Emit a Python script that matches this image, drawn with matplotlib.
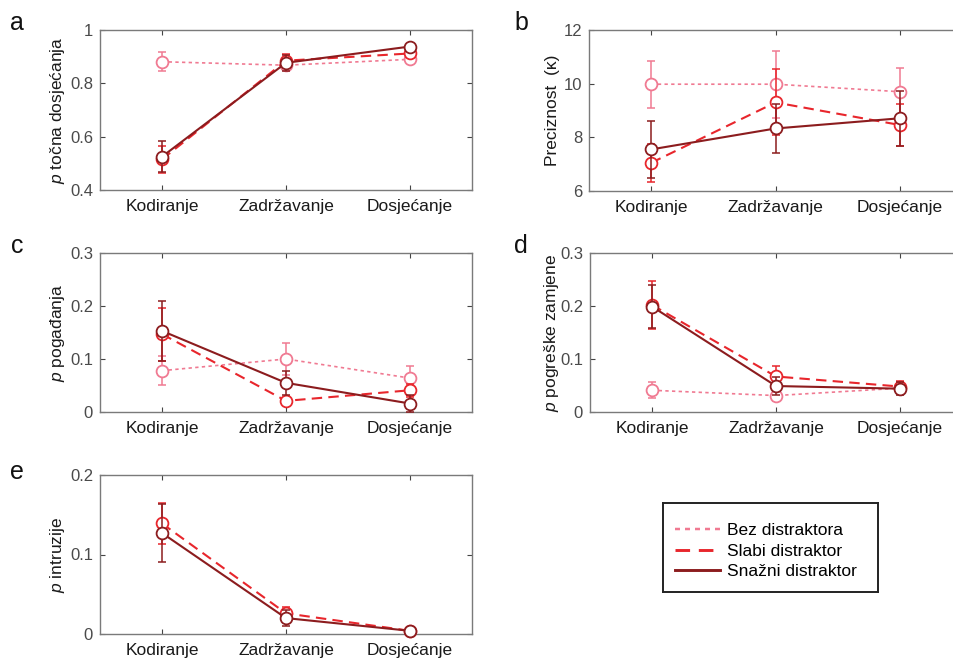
import matplotlib
matplotlib.use("Agg")
import matplotlib.pyplot as plt
from matplotlib.lines import Line2D

plt.rcParams['font.family'] = ['Liberation Sans', 'DejaVu Sans']
plt.rcParams['mathtext.fontset'] = 'custom'
plt.rcParams['mathtext.it'] = 'Liberation Sans:italic'
plt.rcParams['mathtext.rm'] = 'Liberation Sans'

phases = ["Kodiranje", "Zadržavanje", "Dosjećanje"]
series_names = ["Bez distraktora", "Slabi distraktor", "Snažni distraktor"]

# panel a: p točna dosjećanja
a_bez = [0.881, 0.868, 0.890]
a_bez_err = [0.035, 0.012, 0.010]
a_slabi = [0.515, 0.885, 0.912]
a_slabi_err = [0.050, 0.025, 0.012]
a_snazni = [0.525, 0.877, 0.938]
a_snazni_err = [0.057, 0.030, 0.010]

# panel b: Preciznost (kappa)
b_bez = [9.98, 9.98, 9.70]
b_bez_err = [0.88, 1.25, 0.90]
b_slabi = [7.05, 9.30, 8.46]
b_slabi_err = [0.70, 1.23, 0.78]
b_snazni = [7.55, 8.33, 8.71]
b_snazni_err = [1.07, 0.92, 1.03]

# panel c: p pogađanja
c_bez = [0.078, 0.100, 0.064]
c_bez_err = [0.027, 0.030, 0.022]
c_slabi = [0.147, 0.021, 0.041]
c_slabi_err = [0.050, 0.005, 0.012]
c_snazni = [0.153, 0.055, 0.016]
c_snazni_err = [0.057, 0.023, 0.016]

# panel d: p pogreške zamjene
d_bez = [0.041, 0.031, 0.045]
d_bez_err = [0.015, 0.010, 0.008]
d_slabi = [0.202, 0.067, 0.048]
d_slabi_err = [0.045, 0.020, 0.010]
d_snazni = [0.199, 0.049, 0.044]
d_snazni_err = [0.041, 0.017, 0.012]

# panel e: p intruzije
e_slabi = [0.139, 0.026, 0.004]
e_slabi_err = [0.026, 0.008, 0.002]
e_snazni = [0.127, 0.020, 0.004]
e_snazni_err = [0.037, 0.010, 0.002]

colors = ["#F07A92", "#E8262C", "#8C1C1E"]
styles = [(0, (2, 2)), (0, (5, 3)), "-"]
widths = [1.2, 1.5, 1.5]

W, H = 954, 659
fig = plt.figure(figsize=(W / 100, H / 100), dpi=100)
fig.patch.set_facecolor("white")


def px_axes(left, top, right, bottom):
    return fig.add_axes([left / W, (H - bottom) / H, (right - left) / W, (bottom - top) / H])


spine_col = "#7a7a7a"


def style_axes(ax, ylim, yticks, yticklabels, ylabel, label_x):
    ax.set_xlim(0.5, 3.5)
    ax.set_ylim(*ylim)
    ax.set_xticks([1, 2, 3])
    ax.set_xticklabels(phases, fontsize=12.5, color="#1a1a1a")
    ax.set_yticks(yticks)
    ax.set_yticklabels(yticklabels, fontsize=12, color="#4a4a4a")
    ax.tick_params(direction="in", length=3.5, width=0.8, top=True, right=True,
                   colors="#444444")
    ax.tick_params(axis="x", pad=6.5)
    ax.tick_params(axis="y", pad=5)
    for lab in ax.get_xticklabels():
        lab.set_color("#1a1a1a")
    for lab in ax.get_yticklabels():
        lab.set_color("#4a4a4a")
    for s in ax.spines.values():
        s.set_color(spine_col)
        s.set_linewidth(1.0)
    ax.set_ylabel(ylabel, fontsize=12.5, color="#1a1a1a")
    ax.yaxis.set_label_coords(label_x, 0.5)
    ax.yaxis.label.set_verticalalignment("center")


def plot_series(ax, vals_list, errs_list, idxs):
    x = [1, 2, 3]
    for vals, errs, i in zip(vals_list, errs_list, idxs):
        ax.errorbar(x, vals, yerr=errs, color=colors[i], ecolor=colors[i],
                    elinewidth=1.1, capsize=3, capthick=1.1, linestyle='none', zorder=2 + i)
        ax.plot(x, vals, color=colors[i], linestyle=styles[i], linewidth=widths[i],
                marker='o', markersize=8.5, markerfacecolor='white',
                markeredgecolor=colors[i], markeredgewidth=1.3, zorder=3 + i,
                label=series_names[i], clip_on=False)


ax_a = px_axes(100, 30, 472, 190)
plot_series(ax_a, [a_bez, a_slabi, a_snazni], [a_bez_err, a_slabi_err, a_snazni_err], [0, 1, 2])
style_axes(ax_a, (0.4, 1.0), [0.4, 0.6, 0.8, 1.0], ["0.4", "0.6", "0.8", "1"],
           r"$p$ točna dosjećanja", -0.115)

ax_b = px_axes(589, 30, 962, 191)
plot_series(ax_b, [b_bez, b_slabi, b_snazni], [b_bez_err, b_slabi_err, b_snazni_err], [0, 1, 2])
style_axes(ax_b, (6, 12), [6, 8, 10, 12], ["6", "8", "10", "12"], "Preciznost  (κ)", -0.097)

ax_c = px_axes(100, 253, 472, 412)
plot_series(ax_c, [c_bez, c_slabi, c_snazni], [c_bez_err, c_slabi_err, c_snazni_err], [0, 1, 2])
style_axes(ax_c, (0, 0.3), [0, 0.1, 0.2, 0.3], ["0", "0.1", "0.2", "0.3"],
           r"$p$ pogađanja", -0.115)

ax_d = px_axes(590, 253, 962, 412)
plot_series(ax_d, [d_bez, d_slabi, d_snazni], [d_bez_err, d_slabi_err, d_snazni_err], [0, 1, 2])
style_axes(ax_d, (0, 0.3), [0, 0.1, 0.2, 0.3], ["0", "0.1", "0.2", "0.3"],
           r"$p$ pogreške zamjene", -0.104)

ax_e = px_axes(100, 475, 472, 634)
plot_series(ax_e, [e_slabi, e_snazni], [e_slabi_err, e_snazni_err], [1, 2])
style_axes(ax_e, (0, 0.2), [0, 0.1, 0.2], ["0", "0.1", "0.2"], r"$p$ intruzije", -0.115)

# panel letters
for letter, xp, yp in [("a", 17, 23), ("b", 521, 23), ("c", 17, 246), ("d", 521, 246), ("e", 17, 472)]:
    fig.text(xp / W, (H - yp) / H, letter, fontsize=18, ha="center", va="center", color="#111111")

# legend box
ax_leg = px_axes(663, 503, 878, 592)
ax_leg.set_xticks([])
ax_leg.set_yticks([])
for s in ax_leg.spines.values():
    s.set_color("#222222")
    s.set_linewidth(1.4)
handles = [Line2D([0], [0], color=colors[i], linestyle=styles[i], linewidth=widths[i] + 0.6)
           for i in range(3)]
ax_leg.legend(handles, series_names, loc="upper left", bbox_to_anchor=(0.0, 0.91),
              frameon=False, fontsize=12.5, handlelength=2.6, handletextpad=0.4,
              labelspacing=0.3, borderaxespad=0.3)

fig.savefig("out.png", dpi=100, facecolor="white")
